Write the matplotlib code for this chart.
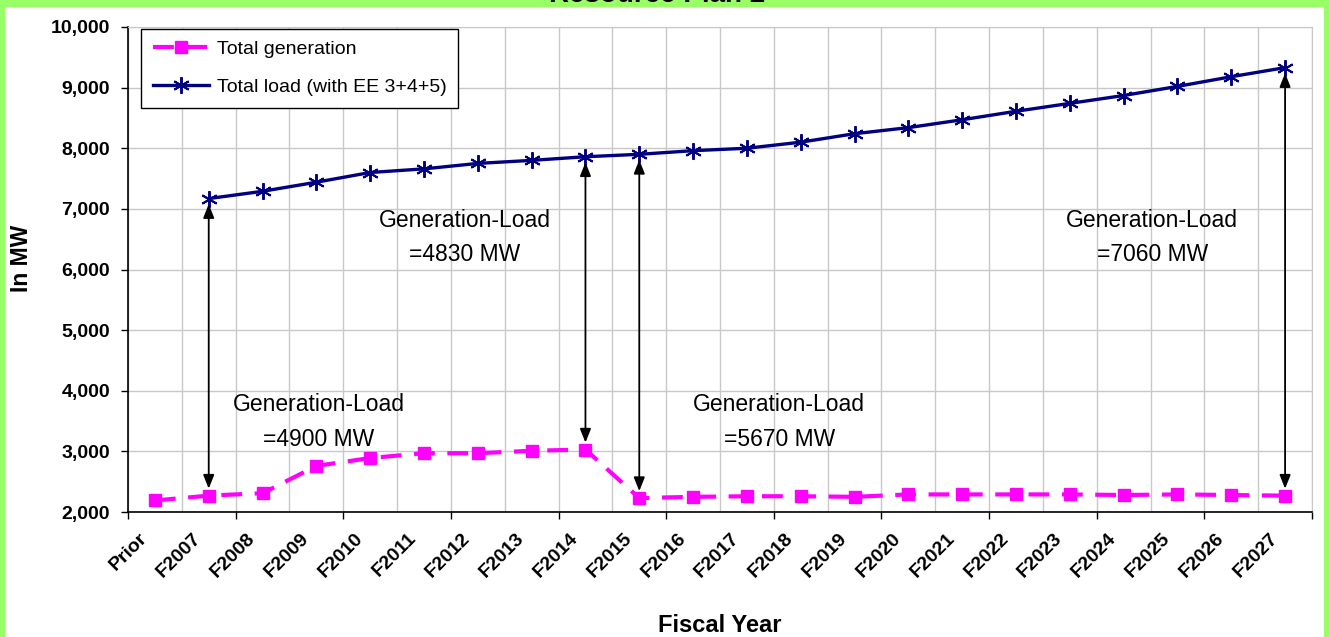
import numpy as np
import matplotlib
matplotlib.use("Agg")
import matplotlib.pyplot as plt
from matplotlib.patches import Rectangle
from matplotlib.transforms import ScaledTranslation

plt.rcParams["font.family"] = ["Liberation Sans", "DejaVu Sans"]

years = ["Prior"] + [f"F{y}" for y in range(2007, 2028)]
generation = [2190, 2270, 2310, 2760, 2890, 2970, 2970, 3010, 3030, 2230, 2250,
              2260, 2260, 2250, 2290, 2290, 2290, 2290, 2280, 2290, 2280, 2270]
load = [np.nan, 7170, 7290, 7440, 7600, 7660, 7750, 7800, 7860, 7900, 7960,
        8000, 8100, 8240, 8340, 8470, 8610, 8740, 8870, 9020, 9180, 9330]

# years where the gap between load and generation is called out
gap_years = ["F2007", "F2014", "F2015", "F2027"]
# where each callout text sits (category position, MW)
gap_text_x = [3.04, 5.76, 11.6, 18.53]
gap_text_y = [3490, 6530, 3490, 6530]

GREEN = "#99FF66"
GRID = "#C8C8C8"

fig = plt.figure(figsize=(13.29, 6.37), dpi=100, facecolor=GREEN)
fig.patches.append(Rectangle((5 / 1329, 0), 1319 / 1329, 630 / 637,
                             transform=fig.transFigure, facecolor="white",
                             edgecolor="none", zorder=-1))
fig.text(657 / 1329, 1 - 2.5 / 637, "Resource Plan 2", ha="center",
         va="baseline", fontsize=20, fontweight="bold", zorder=5)

ax = fig.add_axes([128 / 1329, 1 - 512 / 637, 1184 / 1329, 485 / 637])
ax.set_facecolor("white")

x = np.arange(len(years))
ax.plot(x, generation, color="#FF00FF", lw=3.0, dashes=(5, 3),
        marker="s", markersize=9, label="Total generation", zorder=3)
ax.plot(x, load, color="#000080", lw=2.4, marker=(6, 2, 0),
        markersize=12, markeredgewidth=1.4, label="Total load (with EE 3+4+5)",
        zorder=3)

for yr, tx, ty in zip(gap_years, gap_text_x, gap_text_y):
    i = years.index(yr)
    ax.annotate("", xy=(i, load[i]), xytext=(i, generation[i]),
                arrowprops=dict(arrowstyle="<|-|>,head_length=0.55,head_width=0.22",
                                color="black", lw=1.3, shrinkA=5, shrinkB=4,
                                mutation_scale=15), zorder=4)
    ax.text(tx, ty, f"Generation-Load\n={load[i] - generation[i]:.0f} MW",
            ha="center", va="center", fontsize=16.5, linespacing=1.65)

ax.set_xlim(-0.5, len(years) - 0.5)
ax.set_ylim(2000, 10000)

# gridlines at every category boundary, tick marks on every other one
bounds = np.arange(-0.5, len(years), 1.0)
ax.set_xticks(bounds[::2])
ax.set_xticklabels([])
for b in bounds[1::2]:
    ax.axvline(b, color=GRID, lw=1, zorder=0)
ax.set_xticks(x, years, minor=True)
ax.tick_params(axis="x", which="major", length=5, width=1, direction="out")
ax.tick_params(axis="x", which="minor", length=0, pad=17)
shift = ScaledTranslation(-10 / 100, 0, fig.dpi_scale_trans)
for lab in ax.get_xticklabels(minor=True):
    lab.set_rotation(45)
    lab.set_rotation_mode("anchor")
    lab.set_ha("right")
    lab.set_va("center")
    lab.set_fontweight("bold")
    lab.set_fontsize(14)
    lab.set_transform(lab.get_transform() + shift)

yt = np.arange(2000, 10001, 1000)
ax.set_yticks(yt, [f"{v:,}" for v in yt])
ax.tick_params(axis="y", length=5, width=1, pad=8, labelsize=14)
for lab in ax.get_yticklabels():
    lab.set_fontweight("bold")

ax.grid(True, which="major", color=GRID, lw=1)
ax.set_axisbelow(True)
for side in ["top", "right"]:
    ax.spines[side].set_color(GRID)
for side in ["left", "bottom"]:
    ax.spines[side].set_color("black")
    ax.spines[side].set_linewidth(1.2)

ax.set_xlabel("Fiscal Year", fontsize=17, fontweight="bold")
ax.xaxis.set_label_coords(0.5, -(625 - 512) / 485)
ax.xaxis.label.set_va("center")
ax.set_ylabel("In MW", fontsize=16.5, fontweight="bold")
ax.yaxis.set_label_coords(-(128 - 22) / 1184, (512 - 258) / 485)
ax.yaxis.label.set_va("center")

leg = ax.legend(loc="upper left", bbox_to_anchor=(13 / 1184, 1 - 2 / 485),
                fontsize=14, frameon=True, fancybox=False, framealpha=1,
                edgecolor="black", handlelength=2.9, handletextpad=0.4,
                labelspacing=1.05, borderpad=0.6, borderaxespad=0)
leg.get_frame().set_linewidth(1.0)

fig.savefig("out.png", dpi=100, facecolor=GREEN)
